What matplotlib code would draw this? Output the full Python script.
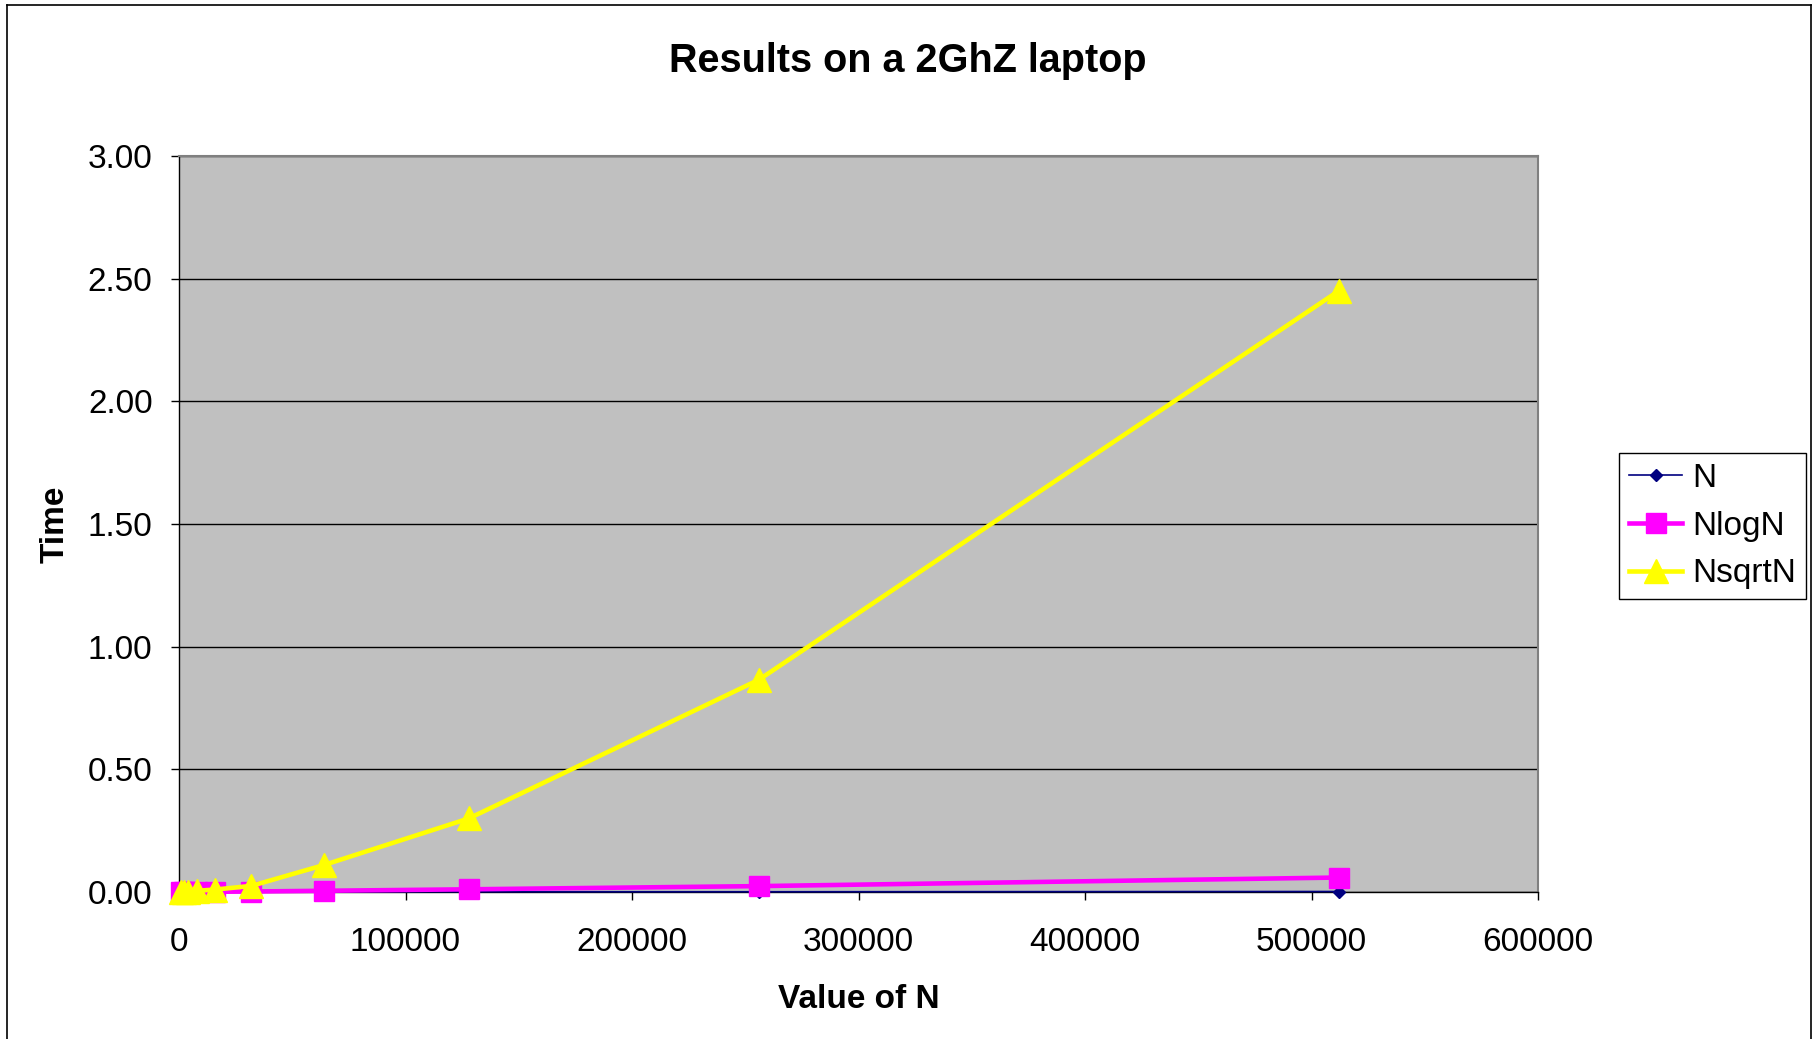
import matplotlib
matplotlib.use("Agg")
import matplotlib.pyplot as plt
from matplotlib.lines import Line2D

plt.rcParams['font.family'] = ['Liberation Sans', 'DejaVu Sans']

# timings (seconds) for each problem size
n_values = [1000, 2000, 4000, 8000, 16000, 32000, 64000, 128000, 256000, 512000]
t_n = [0.0, 0.0, 0.0, 0.0, 0.0, 0.0, 0.0005, 0.001, 0.001, 0.002]
t_nlogn = [0.0, 0.0, 0.0, 0.001, 0.001, 0.002, 0.005, 0.011, 0.024, 0.059]
t_nsqrtn = [0.0, 0.001, 0.002, 0.005, 0.01, 0.025, 0.11, 0.30, 0.865, 2.45]

x_ticks = [0, 100000, 200000, 300000, 400000, 500000, 600000]
y_ticks = [0.0, 0.5, 1.0, 1.5, 2.0, 2.5, 3.0]

fig = plt.figure(figsize=(18.15, 10.39), dpi=100)
ax = fig.add_axes([179/1815, 1-892/1039, (1538-179)/1815, (892-156)/1039])
ax.set_facecolor('#C0C0C0')

ax.plot(n_values, t_n, color='#000080', lw=1.2, marker='D', ms=6,
        label='N', clip_on=False, zorder=3)
ax.plot(n_values, t_nlogn, color='#FF00FF', lw=3.3, marker='s', ms=15,
        label='NlogN', clip_on=False, zorder=4)
ax.plot(n_values, t_nsqrtn, color='#FFFF00', lw=3.3, marker='^', ms=17,
        label='NsqrtN', clip_on=False, zorder=5)

ax.set_xlim(0, 600000)
ax.set_ylim(0, 3.0)
ax.set_xticks(x_ticks)
ax.set_xticklabels([str(v) for v in x_ticks])
ax.set_yticks(y_ticks)
ax.set_yticklabels(['%.2f' % v for v in y_ticks])
ax.tick_params(axis='both', direction='out', length=6, width=1, color='black',
               labelsize=24)
ax.tick_params(axis='x', pad=19)
ax.tick_params(axis='y', pad=13)

ax.grid(axis='y', color='black', lw=1)
ax.set_axisbelow(True)
for s in ['top', 'right']:
    ax.spines[s].set_color('#808080')
    ax.spines[s].set_linewidth(1.5)
for s in ['left', 'bottom']:
    ax.spines[s].set_color('black')
    ax.spines[s].set_linewidth(1)

ax.set_xlabel('Value of N', fontsize=24, fontweight='bold', va='center')
ax.xaxis.set_label_coords(0.5, -0.1455)
ax.set_ylabel('Time', fontsize=24, fontweight='bold', va='center')
ax.yaxis.set_label_coords(-0.091, 0.5)

fig.text(0.5, 1-61/1039, 'Results on a 2GhZ laptop', fontsize=28.5,
         fontweight='bold', ha='center', va='center')

leg = fig.legend(loc='upper left', bbox_to_anchor=(1619/1815, 1-453/1039),
                 fontsize=24, frameon=True, fancybox=False, framealpha=1,
                 edgecolor='black', handlelength=1.6, handletextpad=0.3,
                 labelspacing=0.5, borderpad=0.3, borderaxespad=0)
leg.get_frame().set_linewidth(1)

# outer chart border
fig.add_artist(Line2D([0.0038, 0.0038], [0, 0.9955], color='black', lw=1.2))
fig.add_artist(Line2D([0.0038, 0.998], [0.9955, 0.9955], color='black', lw=1.2))
fig.add_artist(Line2D([0.998, 0.998], [0, 0.9955], color='black', lw=1.2))

fig.savefig('out.png', dpi=100)
